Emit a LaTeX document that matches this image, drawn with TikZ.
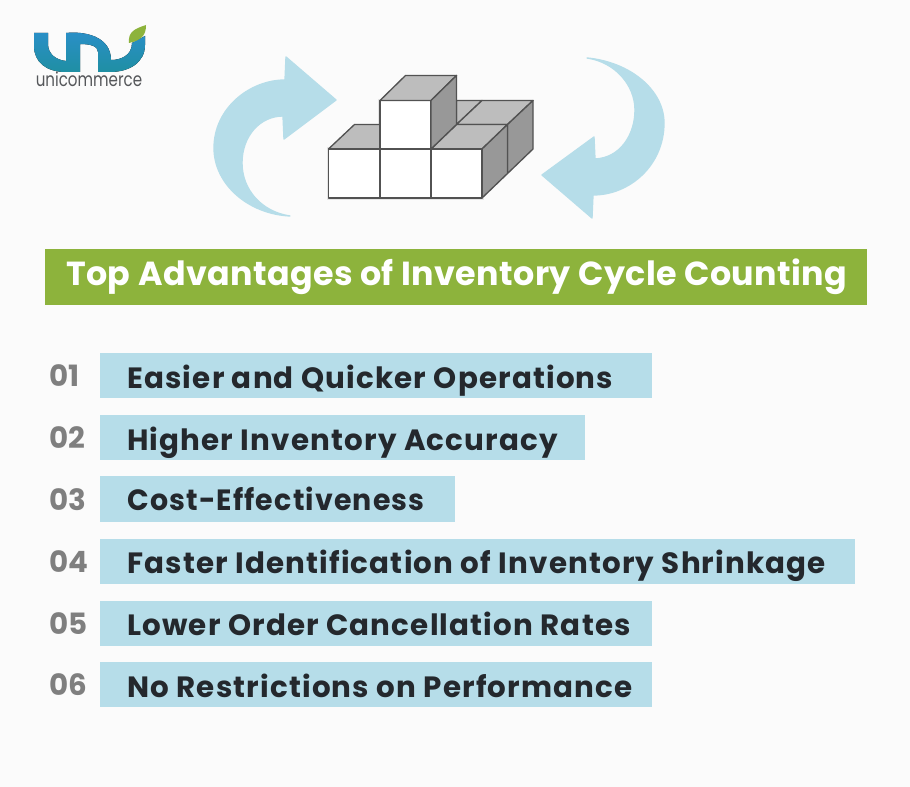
\documentclass[tikz,border=0pt]{standalone}
\usepackage{fontspec}
\setmainfont{Poppins}
\newfontfamily\titlefont[LetterSpace=1.2]{Poppins}
\newfontfamily\itemfont[LetterSpace=4.0]{Poppins}
\usepackage{tikz}
\usetikzlibrary{positioning}
\definecolor{pagebg}{HTML}{FBFBFB}
\definecolor{titlegreen}{HTML}{8DB33C}
\definecolor{barblue}{HTML}{B6DDE9}
\definecolor{itemink}{HTML}{24282D}
\definecolor{numgrey}{HTML}{7F7F7F}
\definecolor{logoink}{HTML}{55575A}
\definecolor{logoblue}{HTML}{2A8FC8}
\definecolor{logoteal}{HTML}{1F8FA3}
\definecolor{leafgreen}{HTML}{8DB33C}
\definecolor{topgrey}{HTML}{BDBDBD}
\definecolor{sidegrey}{HTML}{989898}
\tikzset{
  titlebox/.style={fill=titlegreen, anchor=west, minimum height=42pt, inner sep=0pt},
  barbox/.style={fill=barblue, anchor=west, minimum height=33.75pt, inner sep=0pt},
  titletext/.style={anchor=base west, inner sep=0pt, text=white, font=\fontsize{25}{30}\titlefont\bfseries},
  itemtext/.style={anchor=base west, inner sep=0pt, text=itemink, font=\fontsize{22}{26}\itemfont\bfseries},
  numtext/.style={anchor=base west, inner sep=0pt, text=numgrey, font=\fontsize{22}{26}\selectfont\bfseries},
  cubefront/.style={fill=white, draw=black!68, line width=1pt, line join=round},
  cubetop/.style={fill=topgrey, draw=black!68, line width=1pt, line join=round},
  cubeside/.style={fill=sidegrey, draw=black!68, line width=1pt, line join=round},
  loopfill/.style={fill=barblue, draw=barblue, line width=1pt, line join=round}
}
\begin{document}
\begin{tikzpicture}[x=0.75pt,y=-0.75pt]
\useasboundingbox (0,0) rectangle (910,787);
\fill[pagebg] (0,0) rectangle (910,787);

% Logo
\fill[top color=logoblue, bottom color=logoteal] (34,33) -- (48,33) -- (48,44) .. controls (48,54) and (56,60) .. (66,61) -- (66,33)
  .. controls (84,31) and (111,36) .. (111,60) .. controls (120,60) and (132,56) .. (132,43) -- (145,36) -- (145,45)
  .. controls (145,62) and (130,72) .. (110,72) -- (98,72) -- (98,52) .. controls (98,46) and (90,44) .. (80,44) -- (80,72) -- (66,72)
  .. controls (46,72) and (34,62) .. (34,46) -- cycle;
\fill[leafgreen] (129,43) .. controls (128,32) and (134,29) .. (146,25) .. controls (146,35) and (142,40) .. (129,43) -- cycle;
\node (logotext) [anchor=base, inner sep=0pt, text=logoink, xscale=0.78, font=\fontsize{14.5}{17}\selectfont] at (89,87) {unicommerce};

% Arrows
\path[loopfill] (290,216) .. controls (248,214) and (214,184) .. (214,148) .. controls (214,108) and (250,80) .. (285,80)
  -- (286,57) -- (336,100) -- (284,139) -- (283,116) .. controls (260,116) and (242,136) .. (242,163) .. controls (242,190) and (262,212) .. (290,216) -- cycle;
\path[loopfill] (587,58) .. controls (630,62) and (664,90) .. (664,123) .. controls (664,165) and (630,195) .. (593,195)
  -- (592,218) -- (542,175) -- (594,137) -- (595,159) .. controls (620,158) and (635,135) .. (635,110) .. controls (635,85) and (615,62) .. (587,58) -- cycle;

% Cubes
\fill[black!10] (326.5,147) rectangle (484,200.5);
\fill[black!10] (377.5,99) rectangle (431,149);
\draw[cubetop] (456.5,100.5) -- (482,100.5) -- (456.5,124.5) -- cycle;
\draw[cubetop] (456.5,124.5) -- (482,100.5) -- (533,100.5) -- (507.5,124.5) -- cycle;
\draw[cubeside] (507.5,124.5) -- (533,100.5) -- (533,149) -- (507.5,173.5) -- cycle;
\draw[cubetop] (328.5,149) -- (354.5,124.5) -- (380,124.5) -- (380,149) -- cycle;
\draw[cubetop] (431,149) -- (456.5,124.5) -- (507.5,124.5) -- (482,149) -- cycle;
\draw[cubeside] (482,149) -- (507.5,124.5) -- (507.5,173.5) -- (482,198) -- cycle;
\draw[cubefront] (328.5,149) rectangle (380,198);
\draw[cubefront] (380,149) rectangle (431,198);
\draw[cubefront] (431,149) rectangle (482,198);
\draw[cubefront] (380,100.5) rectangle (431,149);
\draw[cubetop] (380,100.5) -- (405.5,75.5) -- (456.5,75.5) -- (431,100.5) -- cycle;
\draw[cubeside] (431,100.5) -- (456.5,75.5) -- (456.5,124.5) -- (431,149) -- cycle;

% Title
\node (titlebar) [titlebox, minimum width=616.5pt] at (45,277) {};
\node (titlelabel) [titletext] at (66,286) {Top Advantages of Inventory Cycle Counting};

% Bars
\node (bara) [barbox, minimum width=414pt] at (100,375.5) {};
\node (barb) [barbox, minimum width=363.75pt] at (100,437.5) {};
\node (barc) [barbox, minimum width=266.25pt] at (100,499) {};
\node (bard) [barbox, minimum width=566.25pt] at (100,561.5) {};
\node (bare) [barbox, minimum width=414pt] at (100,623.5) {};
\node (barf) [barbox, minimum width=414pt] at (100,684.5) {};

% Labels
\node (itema) [itemtext] at (127,388.5) {Easier and Quicker Operations};
\node (itemb) [itemtext] at (127,450.5) {Higher Inventory Accuracy};
\node (itemc) [itemtext, xscale=0.97] at (127,511) {Cost-Effectiveness};
\node (itemd) [itemtext] at (127,573.5) {Faster Identification of Inventory Shrinkage};
\node (iteme) [itemtext] at (127,635.5) {Lower Order Cancellation Rates};
\node (itemf) [itemtext] at (127,697) {No Restrictions on Performance};

% Numbers
\node (numa) [numtext] at (49.5,387) {01};
\node (numb) [numtext] at (49.5,449) {02};
\node (numc) [numtext] at (49.5,510) {03};
\node (numd) [numtext] at (49.5,572) {04};
\node (nume) [numtext] at (49.5,634) {05};
\node (numf) [numtext] at (49.5,695) {06};
\end{tikzpicture}
\end{document}
